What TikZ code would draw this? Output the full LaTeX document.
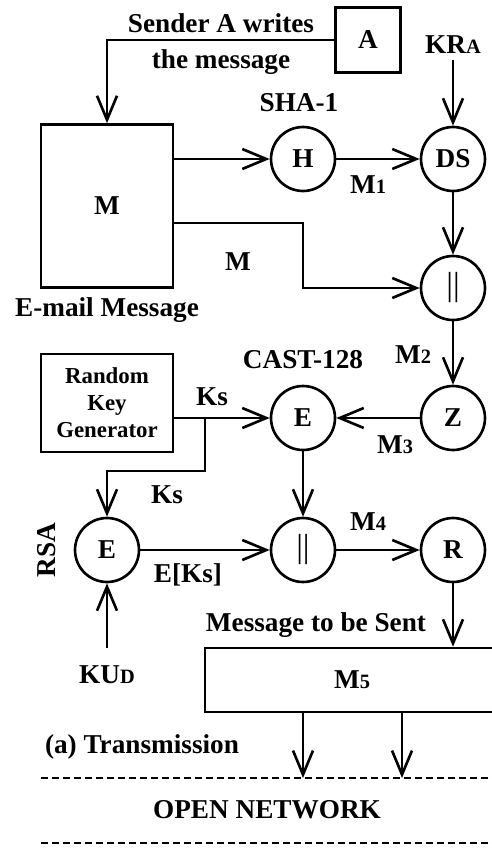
\documentclass[tikz,border=0pt]{standalone}
\usepackage{fontspec}
\setmainfont{Liberation Serif}
\usetikzlibrary{arrows.meta, positioning, calc}
\newcommand{\lowsub}[1]{{\fontsize{11.6}{12}\selectfont #1}}
\newcommand{\catbar}{{\mdseries\fontsize{19}{20}\selectfont ||}}
\tikzset{
  flowarrow/.style={-{Straight Barb[length=4.8mm, width=4mm]}, line width=1.5pt},
  procnode/.style={draw, circle, line width=1.5pt, minimum size=1.28cm, inner sep=0pt},
  boxnode/.style={draw, rectangle, line width=1.5pt, inner sep=0pt},
  netline/.style={line width=1.2pt, dash pattern=on 1.4mm off 0.8mm}
}
\begin{document}
\begin{tikzpicture}[x=0.02cm, y=-0.02cm, font=\fontsize{15.5}{20}\selectfont\bfseries]
    \useasboundingbox (0,0) rectangle (492,848);
    \clip (0,0) rectangle (492,848);

    \node (a) [boxnode, minimum size=1.3cm] at (368, 40) {A};
    \node (msg) [boxnode, minimum width=2.64cm, minimum height=3.26cm] at (107, 206) {M};
    \node (rkg) [boxnode, minimum width=2.64cm, minimum height=1.96cm, align=center,
      font=\fontsize{13}{15.3}\selectfont\bfseries] at (107, 403) {Random\\Key\\Generator};
    \node (hash) [procnode] at (303, 159) {H};
    \node (dsig) [procnode] at (453, 159) {DS};
    \node (cat1) [procnode] at (453, 288) {\catbar};
    \node (zip) [procnode] at (453, 418) {Z};
    \node (enc) [procnode] at (303, 418) {E};
    \node (rsa) [procnode] at (107, 550) {E};
    \node (cat2) [procnode] at (303, 550) {\catbar};
    \node (radix) [procnode] at (453, 550) {R};
    \node (m5) [boxnode, minimum width=5.88cm, minimum height=1.28cm] at (352, 680) {M\lowsub{5}};

    \coordinate (kra) at (453, 60);
    \coordinate (mout) at (173, 223);
    \coordinate (ksplit) at (205, 418);
    \coordinate (kbend) at (205, 471);
    \coordinate (kud) at (107, 648);
    \coordinate (net1) at (303, 778);
    \coordinate (net2) at (402, 778);

    \node (sender) [align=center] at (221, 44) {Sender A writes\\the message};
    \node (sha) at (299, 103) {SHA-1};
    \node (kralbl) at (453, 45) {KR\lowsub{A}};
    \node (m1lbl) at (368, 185) {M\lowsub{1}};
    \node (mlbl) at (238, 262) {M};
    \node (email) at (107, 310) {E-mail Message};
    \node (m2lbl) at (413, 355) {M\lowsub{2}};
    \node (cast) at (303, 360) {CAST-128};
    \node (ks1) at (212, 397) {Ks};
    \node (m3lbl) at (395, 445) {M\lowsub{3}};
    \node (ks2) at (167, 495) {Ks};
    \node (rsalbl) [rotate=90] at (47, 550) {RSA};
    \node (ekslbl) at (188, 575) {E[Ks]};
    \node (m4lbl) at (368, 522) {M\lowsub{4}};
    \node (sent) at (316, 625) {Message to be Sent};
    \node (kudlbl) at (107, 675) {KU\lowsub{D}};
    \node (trans) at (142, 747) {(a) Transmission};
    \node (open) at (267, 810) {OPEN NETWORK};

    \draw[flowarrow] (a.west) -| (msg.north);
    \draw[flowarrow] (msg.east |- hash) -- (hash);
    \draw[flowarrow] (hash) -- (dsig);
    \draw[flowarrow] (kra) -- (dsig);
    \draw[flowarrow] (dsig) -- (cat1);
    \draw[flowarrow] (mout) -| (hash |- cat1) -- (cat1);
    \draw[flowarrow] (cat1) -- (zip);
    \draw[flowarrow] (zip) -- (enc);
    \draw[flowarrow] (rkg.east |- enc) -- (enc);
    \draw[flowarrow] (ksplit) -- (kbend) -| (rsa);
    \draw[flowarrow] (enc) -- (cat2);
    \draw[flowarrow] (rsa) -- (cat2);
    \draw[flowarrow] (cat2) -- (radix);
    \draw[flowarrow] (radix) -- (radix |- m5.north);
    \draw[flowarrow] (kud) -- (rsa);
    \draw[flowarrow] (m5.south -| net1) -- (net1);
    \draw[flowarrow] (m5.south -| net2) -- (net2);

    \draw[netline] (41, 778) -- (500, 778);
    \draw[netline] (41, 843) -- (500, 843);
\end{tikzpicture}
\end{document}
